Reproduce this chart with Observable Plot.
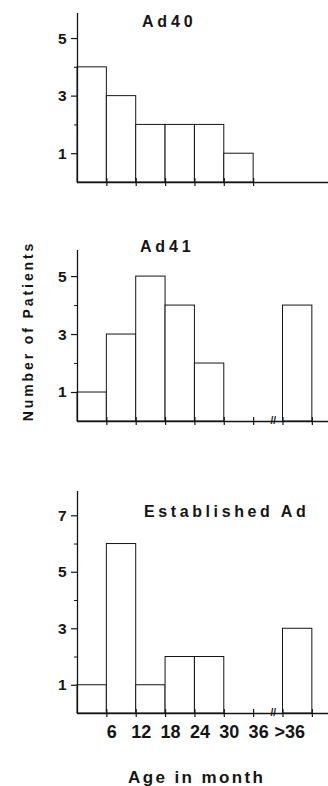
<!DOCTYPE html>
<html><head><meta charset="utf-8">
<script src="https://cdn.jsdelivr.net/npm/d3@7"></script>
<script src="https://cdn.jsdelivr.net/npm/@observablehq/plot@0.6"></script>
<style>
html,body{margin:0;padding:0;background:#fff;}
#chart{position:relative;width:328px;height:786px;overflow:hidden;font-family:"Liberation Sans",Arial,Helvetica,sans-serif;color:#151515;}
#chart svg{position:absolute;left:0;overflow:visible;}
.lbl{position:absolute;font-weight:bold;white-space:nowrap;line-height:1;}
</style></head><body><div id="chart"></div>
<script>
// ---- data ----
const ageBins = ["0-6","6-12","12-18","18-24","24-30","30-36",">36"];
const ad40Counts = [4,3,2,2,2,1,0];
const ad41Counts = [1,3,5,4,2,0,4];
const establishedCounts = [1,6,1,2,2,0,3];
const xTickMonths = [6,12,18,24,30,36];
const xTickLabels = ["6","12","18","24","30","36"];
const openBinLabel = ">36";
const panelTitles = ["Ad40","Ad41","Established Ad"];
const yAxisTitle = "Number of Patients";
const xAxisTitle = "Age in month";

// ---- layout helpers ----
const BIN = 6;
const binStart = i => (i < 6 ? i : i + 1) * BIN; // ">36" bin sits after an axis break
const breakAt = 40;
const X_MAX = 51.3;
const INK = "#151515";
const FONT = '"Liberation Sans", Arial, Helvetica, sans-serif';
const chart = document.getElementById("chart");

function panel(counts, {yMax, major, minor, top, height, mt, mb, extended, labels}) {
  const data = counts.map((n, i) => ({bin: ageBins[i], x1: binStart(i), x2: binStart(i) + BIN, n})).filter(d => d.n > 0);
  const edges = extended ? [...xTickMonths, binStart(6), binStart(6) + BIN] : xTickMonths;
  const marks = [
    Plot.rect(data, {x1: "x1", x2: "x2", y1: 0, y2: "n", fill: "white", stroke: INK, strokeWidth: 1}),
    Plot.ruleX([0], {y1: 0, y2: yMax, stroke: INK, strokeWidth: 1.3}),
    Plot.ruleY([0], {stroke: INK, strokeWidth: 1.4}),
    Plot.ruleX(edges, {y1: 0, y2: 0, insetTop: -4, insetBottom: -4, stroke: INK, strokeWidth: 1.2}),
    Plot.ruleY(major, {x1: 0, x2: 0, insetLeft: -6, stroke: INK, strokeWidth: 1.2}),
    Plot.ruleY(minor, {x1: 0, x2: 0, insetLeft: -3, stroke: INK, strokeWidth: 1}),
    Plot.text(major, {x: 0, y: d => d, text: d => String(d), dx: -11, textAnchor: "end", fontSize: 15.5, fontWeight: "bold", fill: INK, ariaLabel: "ylabels"})
  ];
  if (extended) {
    marks.push(Plot.text(["//"], {x: breakAt, y: 0, text: d => d, fontSize: 10, fontWeight: "bold", fill: INK, dy: -1, ariaLabel: "axisbreak"}));
  }
  if (labels) {
    marks.push(Plot.text(xTickLabels, {x: (d, i) => xTickMonths[i], y: 0, text: d => d, dx: 5, dy: 12, lineAnchor: "top", textAnchor: "middle", fontSize: 18, fontWeight: "bold", fill: INK, ariaLabel: "xlabels"}));
    marks.push(Plot.text([openBinLabel], {x: binStart(6) + BIN / 2, y: 0, text: d => d, dx: -8, dy: 12, lineAnchor: "top", textAnchor: "middle", fontSize: 18, fontWeight: "bold", fill: INK, ariaLabel: "xlabels"}));
  }
  const svg = Plot.plot({
    width: 328, height, marginLeft: 77, marginRight: 0, marginTop: mt, marginBottom: mb,
    x: {domain: [0, X_MAX], axis: null},
    y: {domain: [0, yMax], axis: null},
    style: {fontFamily: FONT, background: "transparent", overflow: "visible"},
    marks
  });
  svg.style.top = top + "px";
  const s = d3.select(svg);
  s.selectAll('g[aria-label="xlabels"] text').style("letter-spacing", "3px").style("font-size", "18px").style("font-weight", "bold");
  s.selectAll('g[aria-label="ylabels"] text').style("font-size", "15.5px").style("font-weight", "bold");
  s.selectAll('g[aria-label="axisbreak"] text').style("font-size", "10px");
  chart.appendChild(svg);
}

panel(ad40Counts, {yMax: 5.87, major: [1,3,5], minor: [2,4], top: 0, height: 200, mt: 13, mb: 18, extended: false, labels: false});
panel(ad41Counts, {yMax: 5.9, major: [1,3,5], minor: [2,4], top: 200, height: 240, mt: 50, mb: 19, extended: true, labels: false});
panel(establishedCounts, {yMax: 7.86, major: [1,3,5,7], minor: [2,4,6], top: 440, height: 346, mt: 51, mb: 73, extended: true, labels: true});

function addLabel(text, {left, baseline, size, spacing, rotate, center}) {
  const d = document.createElement("div");
  d.className = "lbl";
  d.textContent = text;
  d.style.fontSize = size + "px";
  d.style.letterSpacing = spacing + "px";
  if (rotate) {
    d.style.left = center[0] + "px";
    d.style.top = center[1] + "px";
    d.style.transform = "translate(-50%,-50%) rotate(-90deg)";
  } else {
    d.style.left = left + "px";
    d.style.top = (baseline - 0.8465 * size) + "px";
  }
  chart.appendChild(d);
}
addLabel(panelTitles[0], {left: 142, baseline: 27.7, size: 16, spacing: 3.8});
addLabel(panelTitles[1], {left: 140, baseline: 252.7, size: 16, spacing: 3.8});
addLabel(panelTitles[2], {left: 144, baseline: 517.7, size: 16, spacing: 3.6});
addLabel(yAxisTitle, {size: 14, spacing: 2.9, rotate: true, center: [28, 331]});
addLabel(xAxisTitle, {left: 128, baseline: 783.5, size: 17, spacing: 2.4});
</script>
</body></html>
